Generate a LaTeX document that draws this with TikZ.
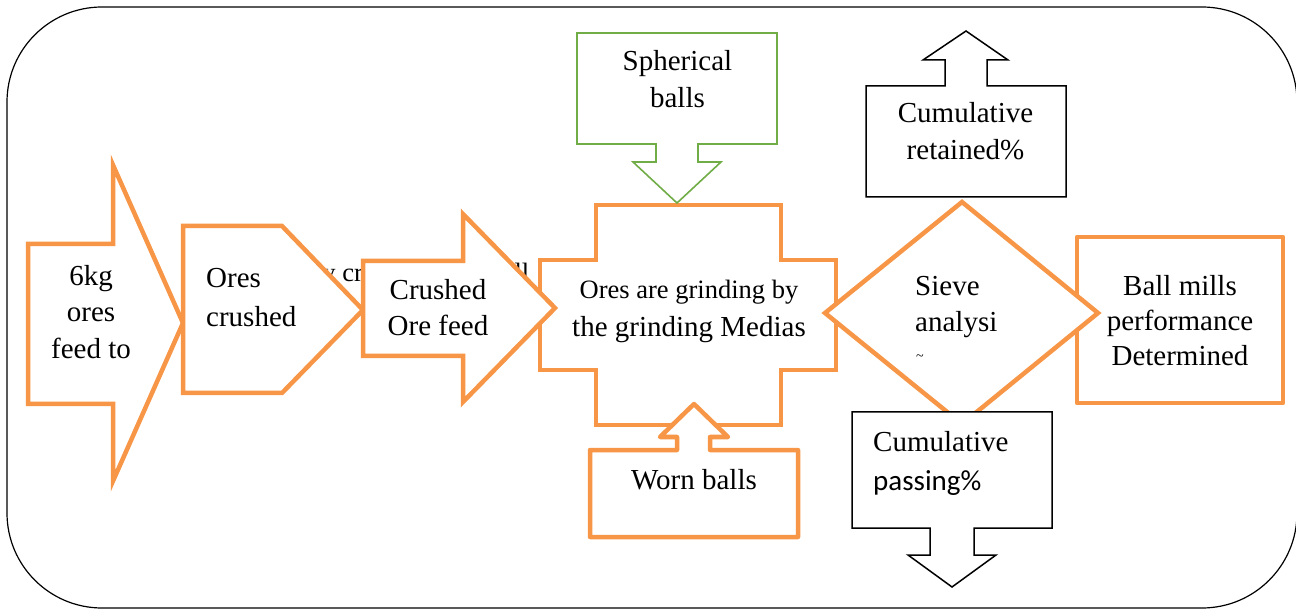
\documentclass[tikz,border=0pt]{standalone}
\usepackage{fontspec}
\setmainfont{Liberation Serif}
\newfontfamily\calibri{Carlito}
\usepackage{tikz}
\definecolor{accent}{HTML}{F79646}
\definecolor{leaf}{HTML}{70AD47}

\begin{document}
\begin{tikzpicture}[x=1pt,y=-1pt,line join=miter,
  orange shape/.style={draw=accent,line width=4.5pt,fill=white},
  orange box/.style={orange shape,line join=round},
  green shape/.style={draw=leaf,line width=1.6pt,fill=white},
  black shape/.style={draw=black,line width=1.5pt,fill=white},
  main text/.style={inner sep=0pt,align=center,font=\fontsize{29}{#1}\selectfont},
  main text/.default=37,
  small text/.style={inner sep=0pt,font=\fontsize{26.5}{30}\selectfont}]

  \useasboundingbox (0,0) rectangle (1296,609);
  \draw[line width=1.2pt,rounded corners=95pt] (7,7) rectangle (1297,608);

  \node[small text,anchor=base west] (millnote) at (309,282) {by crushing ball mill};

  \draw[orange shape] (28,244) -- (113,244) -- (113,165) -- (183,323) -- (113,481)
    -- (113,404) -- (28,404) -- cycle;
  \node[main text=36.5] (feed) at (91,311.6) {6kg\\ores\\feed to};

  \draw[orange shape] (183,226) -- (282,226) -- (363,310) -- (282,393) -- (183,393) -- cycle;
  \node[main text=39,align=left,anchor=west] (crush) at (206,298) {Ores\\crushed};

  \draw[orange shape] (596,205) -- (781,205) -- (781,260) -- (836,260) -- (836,370)
    -- (781,370) -- (781,425) -- (596,425) -- (596,370) -- (540,370) -- (540,260)
    -- (596,260) -- cycle;
  \node[main text=38] (grind) at (689,311)
    {{\fontsize{26.5}{38}\selectfont Ores are grinding by}\\the grinding Medias};

  \draw[orange shape] (363,261) -- (463,261) -- (463,214) -- (555,308) -- (463,402)
    -- (463,356) -- (363,356) -- cycle;
  \node[main text=35.5] (feedin) at (438,307.6) {Crushed\\Ore feed};

  \draw[green shape] (577,33) -- (777,33) -- (777,144) -- (698,144) -- (698,162)
    -- (721,162) -- (677,203) -- (633,162) -- (656,162) -- (656,144) -- (577,144) -- cycle;
  \node[main text] (sphere) at (677.5,78.6) {Spherical\\balls};

  \draw[orange box] (590,450) -- (677,450) -- (677,437) -- (660,437) -- (694,404)
    -- (728,437) -- (710,437) -- (710,450) -- (798,450) -- (798,537) -- (590,537) -- cycle;
  \node[main text,anchor=base] (worn) at (694,489) {Worn balls};

  \draw[orange box] (1077,237) rectangle (1283,403);
  \node[main text=35.3] (perf) at (1180,320.5) {Ball mills\\performance\\Determined};

  \draw[orange shape] (962,202) -- (1098,313) -- (962,424) -- (825,313) -- cycle;
  \node[main text=36,align=left,anchor=west] (sieve) at (915,307.5) {Sieve\\analysi};
  \node[inner sep=0pt,font=\fontsize{14}{14}\selectfont] (sievecut) at (920,358) {\textasciitilde};

  \draw[black shape] (866,86) -- (945,86) -- (945,60) -- (923,60) -- (966,31) -- (1008,60)
    -- (987,60) -- (987,86) -- (1066,86) -- (1066,197) -- (866,197) -- cycle;
  \node[main text] (retain) at (965.5,131.6) {Cumulative\\retained\%};

  \draw[black shape] (852,412) -- (1052,412) -- (1052,528) -- (974,528) -- (974,555)
    -- (996,555) -- (952,587) -- (908,555) -- (930,555) -- (930,528) -- (852,528) -- cycle;
  \node[main text=39,align=left,anchor=west] (pass) at (873,463.5) {Cumulative\\{\calibri passing\%}};

\end{tikzpicture}
\end{document}
